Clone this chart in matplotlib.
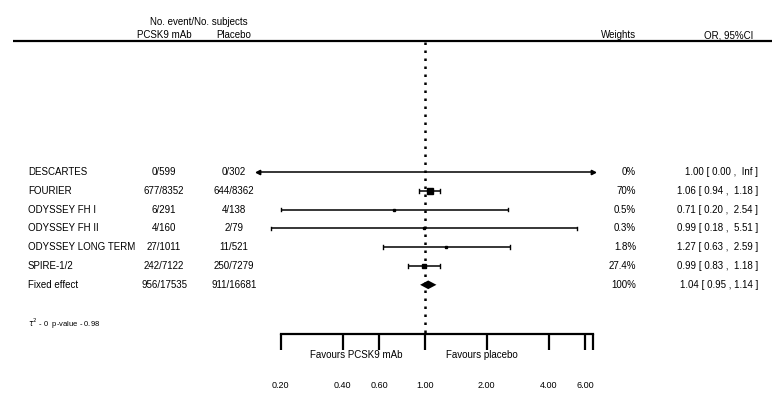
import numpy as np
import matplotlib
matplotlib.use("Agg")
import matplotlib.pyplot as plt
import matplotlib.transforms as mtransforms

plt.rcParams['font.family'] = ['Liberation Sans', 'DejaVu Sans']

# dati degli studi
studies = ["DESCARTES", "FOURIER", "ODYSSEY FH I", "ODYSSEY FH II",
           "ODYSSEY LONG TERM", "SPIRE-1/2"]
events_pcsk9 = ["0/599", "677/8352", "6/291", "4/160", "27/1011", "242/7122"]
events_placebo = ["0/302", "644/8362", "4/138", "2/79", "11/521", "250/7279"]
weights = [0.0, 70.0, 0.5, 0.3, 1.8, 27.4]
weight_labels = ["0%", "70%", "0.5%", "0.3%", "1.8%", "27.4%"]
or_est = [1.00, 1.06, 0.71, 0.99, 1.27, 0.99]
ci_low = [0.00, 0.94, 0.20, 0.18, 0.63, 0.83]
ci_high = [np.inf, 1.18, 2.54, 5.51, 2.59, 1.18]

pooled_label = "Fixed effect"
pooled_pcsk9 = "956/17535"
pooled_placebo = "911/16681"
pooled_or = 1.04
pooled_low = 0.95
pooled_high = 1.14

tick_values = [0.20, 0.40, 0.60, 1.00, 2.00, 4.00, 6.00]
stats_text = r"$\tau^2$ - 0  p-value - 0.98"

# limiti di visualizzazione per CI infiniti
clip_lo, clip_hi = 0.155, 6.55

W, H = 772, 401
fig = plt.figure(figsize=(W / 100, H / 100), dpi=100)
ax = fig.add_axes([0, 0, 1, 1])
ax.set_xscale("log")

# scala: 1.00 a x=424.7 px, 89.5 px per unità di log
x0, k = 424.7, 89.5
ax.set_xlim(np.exp(-x0 / k), np.exp((W - x0) / k))
row0, dy = 172.0, 18.8
ax.set_ylim((H - row0) / dy, -row0 / dy)
ax.axis("off")


def py(pix):
    return (pix - row0) / dy


def fx(pix):
    return pix / W


tr = mtransforms.blended_transform_factory(fig.transFigure, ax.transData)
fs = 7

# intestazione
ax.text(fx(199), py(22), "No. event/No. subjects", transform=tr, ha="center", va="center", fontsize=fs)
ax.text(fx(164), py(35), "PCSK9 mAb", transform=tr, ha="center", va="center", fontsize=fs)
ax.text(fx(234), py(35), "Placebo", transform=tr, ha="center", va="center", fontsize=fs)
ax.text(fx(636), py(35), "Weights", transform=tr, ha="right", va="center", fontsize=fs)
ax.text(fx(753), py(35), "OR, 95%CI", transform=tr, ha="right", va="center", fontsize=fs)
ax.plot([fx(13), 1], [py(41), py(41)], transform=tr, color="black", lw=1.6, solid_capstyle="butt")

# linea verticale tratteggiata a OR = 1
ax.plot([1, 1], [py(42), py(334)], color="black", lw=1.8, linestyle=(0, (1, 2.2)))

# righe degli studi
for i in range(len(studies)):
    ax.text(fx(28), i, studies[i], transform=tr, ha="left", va="center", fontsize=fs)
    ax.text(fx(164), i, events_pcsk9[i], transform=tr, ha="center", va="center", fontsize=fs)
    ax.text(fx(234), i, events_placebo[i], transform=tr, ha="center", va="center", fontsize=fs)
    ax.text(fx(636), i, weight_labels[i], transform=tr, ha="right", va="center", fontsize=fs)
    hi_txt = "Inf" if np.isinf(ci_high[i]) else "%.2f" % ci_high[i]
    ax.text(fx(758), i, "%.2f [ %.2f ,  %s ]" % (or_est[i], ci_low[i], hi_txt),
            transform=tr, ha="right", va="center", fontsize=fs)

    lo = max(ci_low[i], clip_lo)
    hi = min(ci_high[i], clip_hi)
    ax.plot([lo, hi], [i, i], color="black", lw=1.1, solid_capstyle="butt")
    if ci_low[i] < clip_lo:
        ax.plot(lo, i, marker="<", color="black", ms=3.2)
    else:
        ax.plot([lo, lo], [i - 0.1, i + 0.1], color="black", lw=1.0)
    if ci_high[i] > clip_hi:
        ax.plot(hi, i, marker=">", color="black", ms=3.2)
    else:
        ax.plot([hi, hi], [i - 0.1, i + 0.1], color="black", lw=1.0)
    if weights[i] > 0:
        ms = 1.4 + 3.0 * np.sqrt(weights[i] / 70.0)
        ax.plot(or_est[i], i, marker="s", color="black", ms=ms)

# effetto combinato
r = len(studies)
ax.text(fx(28), r, pooled_label, transform=tr, ha="left", va="center", fontsize=fs)
ax.text(fx(164), r, pooled_pcsk9, transform=tr, ha="center", va="center", fontsize=fs)
ax.text(fx(234), r, pooled_placebo, transform=tr, ha="center", va="center", fontsize=fs)
ax.text(fx(636), r, "100%", transform=tr, ha="right", va="center", fontsize=fs)
ax.text(fx(758), r, "%.2f [ %.2f , %.2f ]" % (pooled_or, pooled_low, pooled_high),
        transform=tr, ha="right", va="center", fontsize=fs)
hd = 0.23
ax.fill([pooled_low, pooled_or, pooled_high, pooled_or],
        [r, r - hd, r, r + hd], color="black", lw=0)

ax.text(fx(28), py(324), stats_text, transform=tr, ha="left", va="center", fontsize=5.5)

# asse x
ax.plot([tick_values[0], clip_hi], [py(334), py(334)], color="black", lw=1.6, solid_capstyle="projecting")
for t in tick_values + [clip_hi]:
    ax.plot([t, t], [py(334), py(350)], color="black", lw=1.6, solid_capstyle="butt")
for t in tick_values:
    ax.text(t, py(386), "%.2f" % t, ha="center", va="center", fontsize=6.5)
ax.text(fx(356), py(355), "Favours PCSK9 mAb", transform=tr, ha="center", va="center", fontsize=7)
ax.text(fx(482), py(355), "Favours placebo", transform=tr, ha="center", va="center", fontsize=7)

plt.savefig("out.png", dpi=100)
